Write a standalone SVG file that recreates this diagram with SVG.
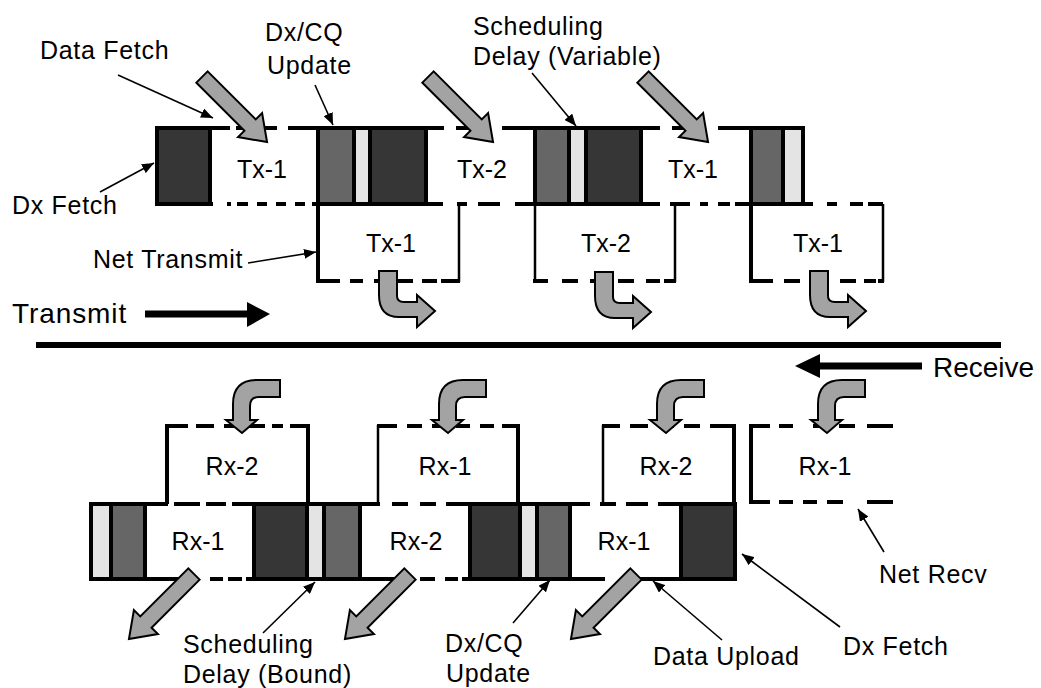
<svg xmlns="http://www.w3.org/2000/svg" width="1041" height="688" viewBox="0 0 1041 688">
  <style>
    .dk{fill:#363636;stroke:#000;stroke-width:4}
    .md{fill:#666;stroke:#000;stroke-width:4}
    .lt{fill:#e4e4e4;stroke:#000;stroke-width:4}
    .ln{stroke:#000;stroke-width:4;fill:none}
    .thin{stroke:#000;stroke-width:2.5;fill:none}
    .ptr{stroke:#000;stroke-width:1.6;fill:none;marker-end:url(#ah)}
    .garrow{fill:#a3a3a3;stroke:#000;stroke-width:2;stroke-linejoin:miter}
    .lbl{font-family:"Liberation Sans",Arial,Helvetica,sans-serif;font-size:25px;letter-spacing:0.7px;fill:#000}
    .big{font-family:"Liberation Sans",Arial,Helvetica,sans-serif;font-size:28px;letter-spacing:0.9px;fill:#000}
    .box{font-family:"Liberation Sans",Arial,Helvetica,sans-serif;font-size:25px;fill:#000;text-anchor:middle}
  </style>
  <defs>
    <marker id="ah" markerUnits="userSpaceOnUse" markerWidth="13" markerHeight="10" refX="12" refY="5" orient="auto">
      <path d="M0,0 L12,5 L0,10 Z" fill="#000"/>
    </marker>
    <!-- straight block arrow, tail at origin, pointing along +x -->
    <path id="straight" class="garrow" d="M0,-8 L68,-8 L68,-17 L92,0 L68,17 L68,8 L0,8 Z"/>
    <!-- bent arrow: down then right, tip at origin -->
    <path id="bendRight" class="garrow" d="M-56,-40 H-38 V-15 Q-38,-9 -31,-9 H-18 V-16 L0,0 L-18,16 V6 H-36 Q-56,6 -56,-16 Z"/>
    <!-- bent arrow: left then down, tip at origin -->
    <path id="bendDown" class="garrow" d="M38,-53 H15 Q-9,-53 -9,-29 V-13 H-16 L0,0 L15,-13 H8 V-27 Q8,-36 17,-36 H38 Z"/>
  </defs>

  <!-- ===== transmit pipeline ===== -->
  <g id="tx-stage-lines">
    <!-- top edges over the idle gaps -->
    <path class="ln" d="M208,128 H230 M236,128 H277 M288,128 H318 M426,128 H444 M456,128 H490 M502,128 H535 M641,128 H660 M672,128 H705 M718,128 H751"/>
    <!-- bottom edges over the idle gaps -->
    <path class="ln" d="M208,204 H213 M227,204 H231 M237,204 H248 M257,204 H267 M276,204 H286 M295,204 H305 M312,204 H318 M426,204 H443 M457,204 H467 M478,204 H500 M515,204 H535 M641,204 H660 M670,204 H690 M700,204 H708 M718,204 H730 M735,204 H751 M803,204 H813 M827,204 H837 M850,204 H863 M868,204 H883"/>
  </g>

  <g id="net-tx-1a">
    <line class="ln" x1="318" y1="204" x2="318" y2="283"/>
    <line class="thin" x1="459" y1="204" x2="459" y2="282"/>
    <path class="ln" d="M318,281 H340 M350,281 H363 M374,281 H388 M397,281 H413 M422,281 H437 M441,281 H460"/>
    <text class="box" x="391" y="252">Tx-1</text>
  </g>
  <g id="net-tx-2">
    <line class="thin" x1="535" y1="204" x2="535" y2="282"/>
    <line class="thin" x1="675" y1="204" x2="675" y2="282"/>
    <path class="ln" d="M533,281 H548 M562,281 H578 M590,281 H606 M618,281 H634 M646,281 H660 M664,281 H676"/>
    <text class="box" x="606" y="252">Tx-2</text>
  </g>
  <g id="net-tx-1b">
    <line class="ln" x1="751" y1="204" x2="751" y2="283"/>
    <line class="thin" x1="883" y1="204" x2="883" y2="282"/>
    <path class="ln" d="M751,281 H773 M784,281 H800 M812,281 H828 M840,281 H856 M864,281 H876 M878,281 H884"/>
    <text class="box" x="818" y="252">Tx-1</text>
  </g>

  <g id="tx-dx-fetch">
    <rect class="dk" x="157" y="128" width="53" height="76"/>
  </g>
  <g id="tx-slot-1">
    <text class="box" x="262" y="178">Tx-1</text>
  </g>
  <g id="tx-update-1">
    <rect class="md" x="318" y="128" width="36" height="76"/>
    <rect class="lt" x="354" y="128" width="16" height="76"/>
    <rect class="dk" x="370" y="128" width="56" height="76"/>
  </g>
  <g id="tx-slot-2">
    <text class="box" x="482" y="178">Tx-2</text>
  </g>
  <g id="tx-update-2">
    <rect class="md" x="535" y="128" width="34" height="76"/>
    <rect class="lt" x="569" y="128" width="17" height="76"/>
    <rect class="dk" x="586" y="128" width="55" height="76"/>
  </g>
  <g id="tx-slot-3">
    <text class="box" x="693" y="178">Tx-1</text>
  </g>
  <g id="tx-update-3">
    <rect class="md" x="751" y="128" width="32" height="76"/>
    <rect class="lt" x="783" y="128" width="20" height="76"/>
  </g>

  <!-- ===== receive pipeline ===== -->
  <g id="net-rx-2a">
    <line class="ln" x1="167" y1="424" x2="167" y2="504"/>
    <line class="ln" x1="308" y1="424" x2="308" y2="504"/>
    <path class="ln" d="M165,426 H188 M196,426 H214 M224,426 H236 M246,426 H265 M272,426 H283 M290,426 H310"/>
    <text class="box" x="232" y="475">Rx-2</text>
  </g>
  <g id="net-rx-1a">
    <line class="thin" x1="378" y1="425" x2="378" y2="504"/>
    <line class="ln" x1="518" y1="424" x2="518" y2="504"/>
    <path class="ln" d="M377,426 H397 M407,426 H422 M432,426 H446 M456,426 H470 M480,426 H494 M502,426 H520"/>
    <text class="box" x="445" y="475">Rx-1</text>
  </g>
  <g id="net-rx-2b">
    <line class="thin" x1="603" y1="425" x2="603" y2="504"/>
    <line class="ln" x1="734" y1="424" x2="734" y2="504"/>
    <path class="ln" d="M602,426 H620 M630,426 H648 M658,426 H674 M684,426 H700 M710,426 H736"/>
    <text class="box" x="666" y="475">Rx-2</text>
  </g>
  <g id="net-rx-1b">
    <line class="ln" x1="751" y1="424" x2="751" y2="504"/>
    <path class="ln" d="M749,426 H770 M779,426 H793 M813,426 H827 M839,426 H855 M867,426 H893"/>
    <path class="ln" d="M749,502 H770 M779,502 H793 M803,502 H817 M827,502 H843 M867,502 H893"/>
    <text class="box" x="825" y="475">Rx-1</text>
  </g>

  <g id="rx-stage-lines">
    <path class="ln" d="M145,504 H168 M174,504 H200 M206,504 H226 M232,504 H254 M360,504 H380 M392,504 H408 M420,504 H436 M446,504 H470 M570,504 H590 M600,504 H616 M626,504 H648 M658,504 H681"/>
    <path class="ln" d="M145,579 H192 M210,579 H223 M228,579 H242 M246,579 H254 M360,579 H395 M420,579 H435 M445,579 H458 M462,579 H470 M570,579 H605 M640,579 H681"/>
  </g>

  <g id="rx-update-1">
    <rect class="lt" x="91" y="504" width="20" height="75"/>
    <rect class="md" x="111" y="504" width="34" height="75"/>
  </g>
  <g id="rx-slot-1">
    <text class="box" x="198" y="550">Rx-1</text>
  </g>
  <g id="rx-update-2">
    <rect class="dk" x="254" y="504" width="53" height="75"/>
    <rect class="lt" x="307" y="504" width="17" height="75"/>
    <rect class="md" x="324" y="504" width="36" height="75"/>
  </g>
  <g id="rx-slot-2">
    <text class="box" x="416" y="550">Rx-2</text>
  </g>
  <g id="rx-update-3">
    <rect class="dk" x="470" y="504" width="50" height="75"/>
    <rect class="lt" x="520" y="504" width="17" height="75"/>
    <rect class="md" x="537" y="504" width="33" height="75"/>
  </g>
  <g id="rx-slot-3">
    <text class="box" x="624" y="550">Rx-1</text>
  </g>
  <g id="rx-dx-fetch">
    <rect class="dk" x="681" y="504" width="54" height="75"/>
  </g>

  <!-- ===== flow arrows and direction ===== -->
  <g id="connectors">
    <!-- data fetch into transmit slots -->
    <use href="#straight" transform="translate(202,77) rotate(45)"/>
    <use href="#straight" transform="translate(428,77) rotate(45)"/>
    <use href="#straight" transform="translate(643,77) rotate(45)"/>
    <!-- frames leaving the wire -->
    <use href="#bendRight" transform="translate(435,311)"/>
    <use href="#bendRight" transform="translate(651,312)"/>
    <use href="#bendRight" transform="translate(866,311)"/>
    <!-- frames arriving from the wire -->
    <use href="#bendDown" transform="translate(242,433)"/>
    <use href="#bendDown" transform="translate(448,433)"/>
    <use href="#bendDown" transform="translate(666,433)"/>
    <use href="#bendDown" transform="translate(827,433)"/>
    <!-- data upload out of receive slots -->
    <use href="#straight" transform="translate(194,574) rotate(135)"/>
    <use href="#straight" transform="translate(410,574) rotate(135)"/>
    <use href="#straight" transform="translate(636,574) rotate(135)"/>

    <!-- direction arrows and divider -->
    <line x1="145" y1="314" x2="249" y2="314" stroke="#000" stroke-width="7"/>
    <path d="M247,302 L270,314 L247,327 Z" fill="#000"/>
    <line x1="818" y1="366" x2="922" y2="366" stroke="#000" stroke-width="7"/>
    <path d="M820,354 L795,366 L820,378 Z" fill="#000"/>
    <line x1="36" y1="345" x2="1001" y2="345" stroke="#000" stroke-width="6"/>

    <!-- callout pointers -->
    <path class="ptr" d="M118,75 L213,118"/>
    <path class="ptr" d="M315,85 L333,125"/>
    <path class="ptr" d="M532,73 L576,126"/>
    <path class="ptr" d="M100,192 L154,163"/>
    <path class="ptr" d="M248,263 L316,252"/>
    <path class="ptr" d="M263,633 L315,582"/>
    <path class="ptr" d="M513,623 L550,580"/>
    <path class="ptr" d="M722,640 L653,581"/>
    <path class="ptr" d="M840,627 L742,554"/>
    <path class="ptr" d="M884,552 L858,509"/>
  </g>

  <g id="labels">
    <text class="lbl" x="40" y="59">Data Fetch</text>
    <text class="lbl" x="265" y="41">Dx/CQ</text>
    <text class="lbl" x="267" y="74">Update</text>
    <text class="lbl" x="473" y="35">Scheduling</text>
    <text class="lbl" x="473" y="65">Delay (Variable)</text>
    <text class="lbl" x="12" y="214">Dx Fetch</text>
    <text class="lbl" x="93" y="268">Net Transmit</text>
    <text class="big" x="12" y="323">Transmit</text>
    <text class="big" x="933" y="377" style="letter-spacing:0">Receive</text>
    <text class="lbl" x="183" y="653">Scheduling</text>
    <text class="lbl" x="183" y="683">Delay (Bound)</text>
    <text class="lbl" x="445" y="652">Dx/CQ</text>
    <text class="lbl" x="446" y="682">Update</text>
    <text class="lbl" x="653" y="665">Data Upload</text>
    <text class="lbl" x="843" y="655">Dx Fetch</text>
    <text class="lbl" x="879" y="583">Net Recv</text>
  </g>
</svg>
